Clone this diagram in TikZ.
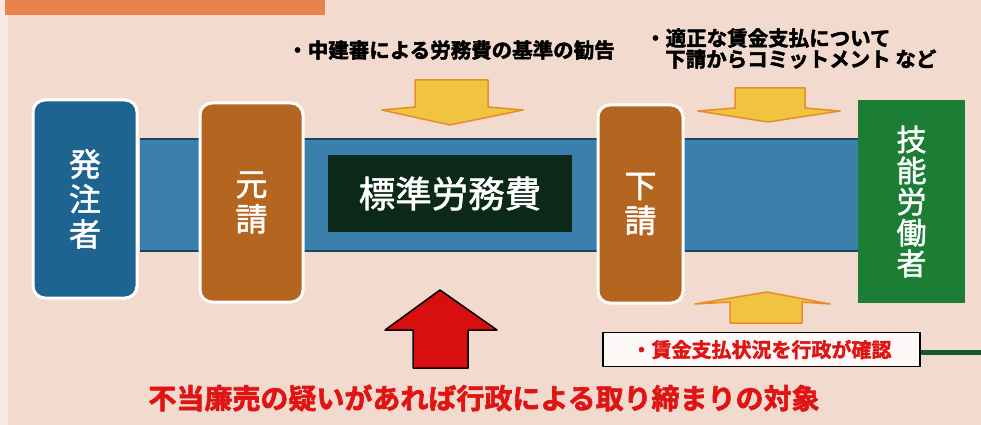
\documentclass[tikz,border=0pt]{standalone}
\usepackage{fontspec}
\newfontfamily\jpm[FakeBold=1.6]{Noto Sans CJK JP}
\newfontfamily\jpb[FakeBold=2.2]{Noto Sans CJK JP Bold}
\definecolor{bgc}{RGB}{242,218,206}
\definecolor{bgl}{RGB}{247,234,228}
\definecolor{obar}{RGB}{233,131,76}
\definecolor{bandc}{RGB}{59,128,172}
\definecolor{bandedge}{RGB}{25,70,100}
\definecolor{bluebox}{RGB}{30,100,145}
\definecolor{brownbox}{RGB}{180,102,32}
\definecolor{darkbox}{RGB}{12,40,25}
\definecolor{greenbox}{RGB}{28,125,52}
\definecolor{yel}{RGB}{240,195,65}
\definecolor{yeledge}{RGB}{232,140,40}
\definecolor{redarr}{RGB}{215,15,15}
\definecolor{redtxt}{RGB}{225,20,20}
\definecolor{gline}{RGB}{20,90,40}
\begin{document}
\begin{tikzpicture}[x=1pt,y=-1pt,line join=round,
  rbox/.style={draw=white,line width=3pt,rounded corners=12pt,text=white,align=center,inner sep=0pt,font=\jpm\fontsize{32}{35}\selectfont},
  sbox/.style={text=white,align=center,inner sep=0pt},
  yarrow/.style={fill=yel,draw=yeledge,line width=1.5pt},
  rarrow/.style={fill=redarr,draw=black,line width=1.5pt},
  toptxt/.style={inner sep=0pt,font=\jpb\fontsize{20.5}{22}\selectfont},
  redtext/.style={inner sep=0pt,text=redtxt}
]
\useasboundingbox (0,0) rectangle (981,425);
\fill[bgc] (0,0) rectangle (981,425);
\fill[bgl] (0,0) rectangle (8,425);
\fill[obar] (5,0) rectangle (325,15);
% band
\fill[bandc] (140,138) rectangle (860,252);
\draw[bandedge,line width=2pt] (140,139) -- (860,139);
\draw[bandedge,line width=2pt] (140,251) -- (860,251);
% boxes
\node[rbox,fill=bluebox,minimum width=104pt,minimum height=198pt] (hatchu) at (85,199) {発\\注\\者};
\node[rbox,fill=brownbox,minimum width=103pt,minimum height=199pt] (moto) at (251.5,202.5) {元\\請};
\node[sbox,fill=darkbox,minimum width=244pt,minimum height=77pt,font=\jpm\fontsize{36.5}{38}\selectfont] (hyojun) at (450,193.5) {標準労務費};
\node[rbox,fill=brownbox,minimum width=85pt,minimum height=198pt] (shita) at (640.5,204) {下\\請};
\node[sbox,fill=greenbox,minimum width=107pt,minimum height=203pt,font=\jpm\fontsize{30}{31}\selectfont] (gino) at (911.5,201.5) {技\\能\\労\\働\\者};
% arrows
\draw[yarrow] (415,80) -- (488,80) -- (488,107) -- (523,110) -- (450,125) -- (382,110) -- (415,107) -- cycle;
\draw[yarrow] (735,88) -- (805,88) -- (805,108) -- (840,111) -- (768,122) -- (698,111) -- (735,108) -- cycle;
\draw[yarrow] (730,323) -- (802,323) -- (802,302) -- (830,304) -- (767,292) -- (695,304) -- (730,302) -- cycle;
\draw[rarrow] (413,368) -- (468,368) -- (468,330) -- (497,330) -- (440,290) -- (385,330) -- (413,330) -- cycle;
% texts
\node[toptxt] (t1) at (451,50) {・中建審による労務費の基準の勧告};
\node[toptxt,anchor=west] (t2a) at (645,38) {・適正な賃金支払について};
\node[toptxt,anchor=west] (t2b) at (665,59) {下請からコミットメント など};
% check box
\node[draw=black,line width=1.5pt,fill=white!85!bgc,minimum width=317pt,minimum height=34pt,inner sep=0pt] (chk) at (761.5,349.5) {};
\node[redtext,font=\jpb\fontsize{20}{22}\selectfont] (chkt) at (chk.center) {・賃金支払状況を行政が確認};
\coordinate (edge) at (981,352);
\draw[gline,line width=5pt] (chk.east |- edge) -- (edge);
% bottom text
\node[redtext,font=\jpb\fontsize{28}{30}\selectfont] (bottom) at (484,398) {不当廉売の疑いがあれば行政による取り締まりの対象};
\end{tikzpicture}
\end{document}
